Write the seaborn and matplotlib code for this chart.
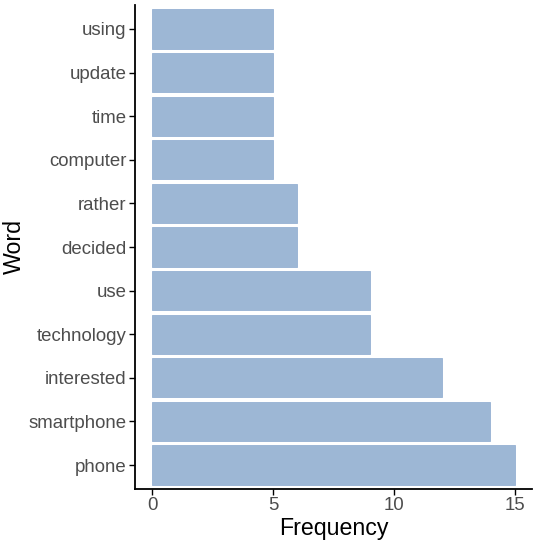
import seaborn as sns
import matplotlib.pyplot as plt
import pandas as pd

words = ["using", "update", "time", "computer", "rather", "decided",
         "use", "technology", "interested", "smartphone", "phone"]
freq = [5, 5, 5, 5, 6, 6, 9, 9, 12, 14, 15]

df = pd.DataFrame({"Word": words, "Frequency": freq})

sns.set_style("white")
plt.rcParams['font.family'] = ['Liberation Sans', 'DejaVu Sans']

fig = plt.figure(figsize=(5.36, 5.45), dpi=100)
ax = fig.add_axes([135 / 536, 1 - 489 / 545, (532 - 135) / 536, (489 - 5) / 545])

sns.barplot(data=df, x="Frequency", y="Word", orient="h", order=words,
            color="#9db7d5", saturation=1, width=0.9,
            edgecolor="#95b1d3", linewidth=0.6, ax=ax)

ax.set_xlim(-0.72, 15.72)
ax.set_ylim(len(words) - 0.45, -0.55)
ax.set_xticks([0, 5, 10, 15])
ax.tick_params(axis="both", labelsize=13.4, labelcolor="#4d4d4d", length=4,
               width=1, color="black", left=True, bottom=True, pad=2)
ax.set_xlabel("Frequency", fontsize=16.7, color="black", labelpad=2)
ax.set_ylabel("Word", fontsize=16.7, color="black")
ax.yaxis.set_label_coords(-0.275, 0.5)
for s in ["top", "right"]:
    ax.spines[s].set_visible(False)
for s in ["left", "bottom"]:
    ax.spines[s].set_color("black")
    ax.spines[s].set_linewidth(1.3)

fig.savefig("out.png", dpi=100)
